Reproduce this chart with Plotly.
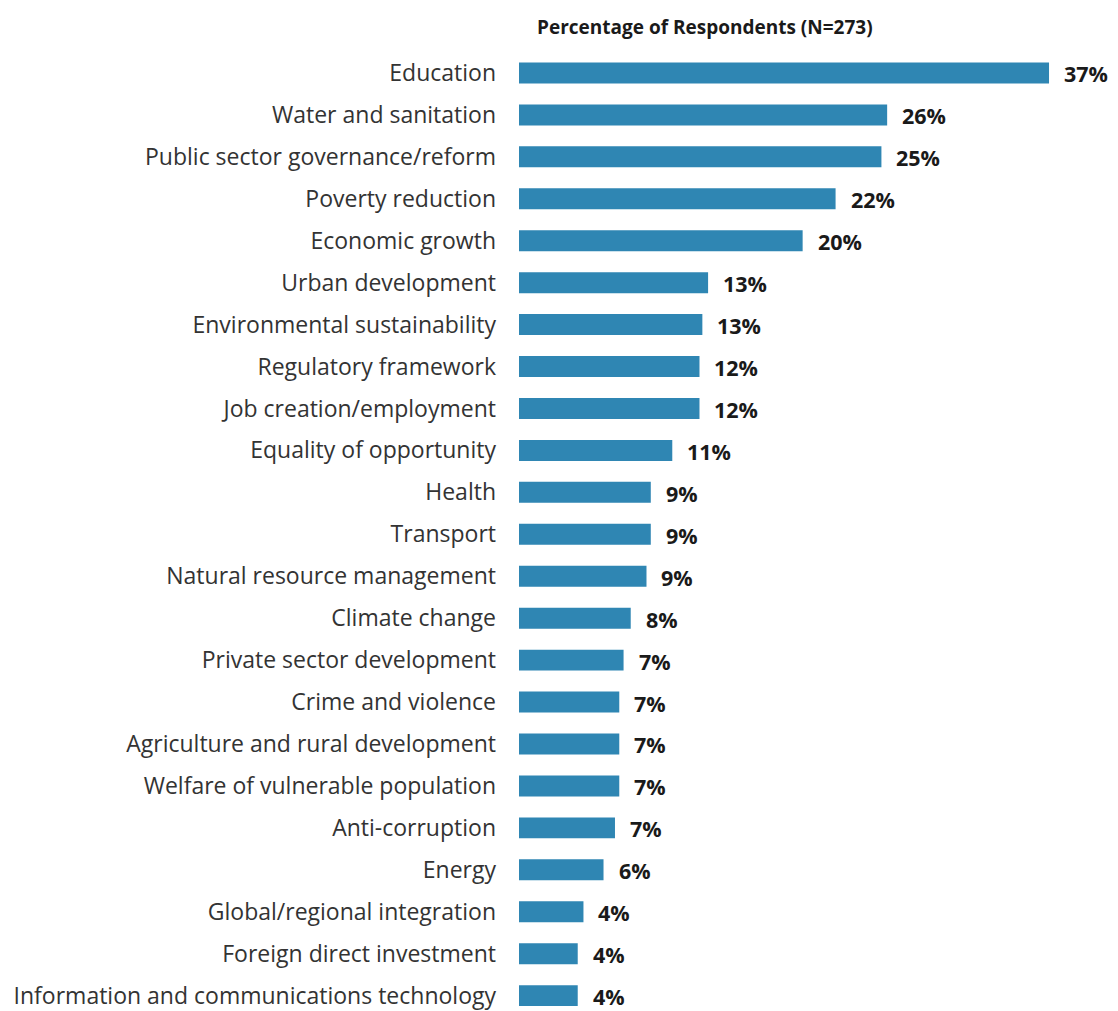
import plotly.graph_objects as go

categories = [
    "Education", "Water and sanitation", "Public sector governance/reform",
    "Poverty reduction", "Economic growth", "Urban development",
    "Environmental sustainability", "Regulatory framework",
    "Job creation/employment", "Equality of opportunity", "Health",
    "Transport", "Natural resource management", "Climate change",
    "Private sector development", "Crime and violence",
    "Agriculture and rural development", "Welfare of vulnerable population",
    "Anti-corruption", "Energy", "Global/regional integration",
    "Foreign direct investment", "Information and communications technology",
]
values = [37.0, 25.7, 25.3, 22.1, 19.8, 13.2, 12.8, 12.6, 12.6, 10.7, 9.2,
          9.2, 8.9, 7.8, 7.3, 7.0, 7.0, 7.0, 6.7, 5.9, 4.5, 4.1, 4.1]
labels = ["37%", "26%", "25%", "22%", "20%", "13%", "13%", "12%", "12%", "11%",
          "9%", "9%", "9%", "8%", "7%", "7%", "7%", "7%", "7%", "6%", "4%",
          "4%", "4%"]
title_text = "Percentage of Respondents (N=273)"

# page has an 8px body margin; figure sized/offset to compensate
W, H = 1110, 1003
left, right_m, top, bottom = 511, 26, 44, 0

fig = go.Figure()
fig.add_trace(go.Bar(
    x=values, y=categories, orientation="h",
    marker=dict(color="#2F86B3", line=dict(width=0)),
    width=0.5, hoverinfo="skip",
))
for c, v, t in zip(categories, values, labels):
    fig.add_annotation(x=v, y=c, text="<b>" + t + "</b>", showarrow=False,
                       xanchor="left", xshift=13, yshift=-1,
                       font=dict(family="Open Sans", size=21.5, color="#1a1a1a"))

fig.update_layout(
    width=W, height=H,
    margin=dict(l=left, r=right_m, t=top, b=bottom, pad=0),
    paper_bgcolor="white", plot_bgcolor="white",
    showlegend=False,
    title=dict(text="<b>" + title_text + "</b>", x=529 / W, xanchor="left",
               xref="container", y=1 - 19 / H, yanchor="middle", yref="container",
               font=dict(family="Open Sans", size=19, color="#1a1a1a")),
    xaxis=dict(range=[0, 40], visible=False, fixedrange=True),
    yaxis=dict(range=[22.295, -0.5], type="category", showgrid=False,
               showline=False, zeroline=False, ticks="",
               ticklabelstandoff=22,
               tickfont=dict(family="Open Sans", size=23, color="#333333")),
)
fig.write_html("out.html")
